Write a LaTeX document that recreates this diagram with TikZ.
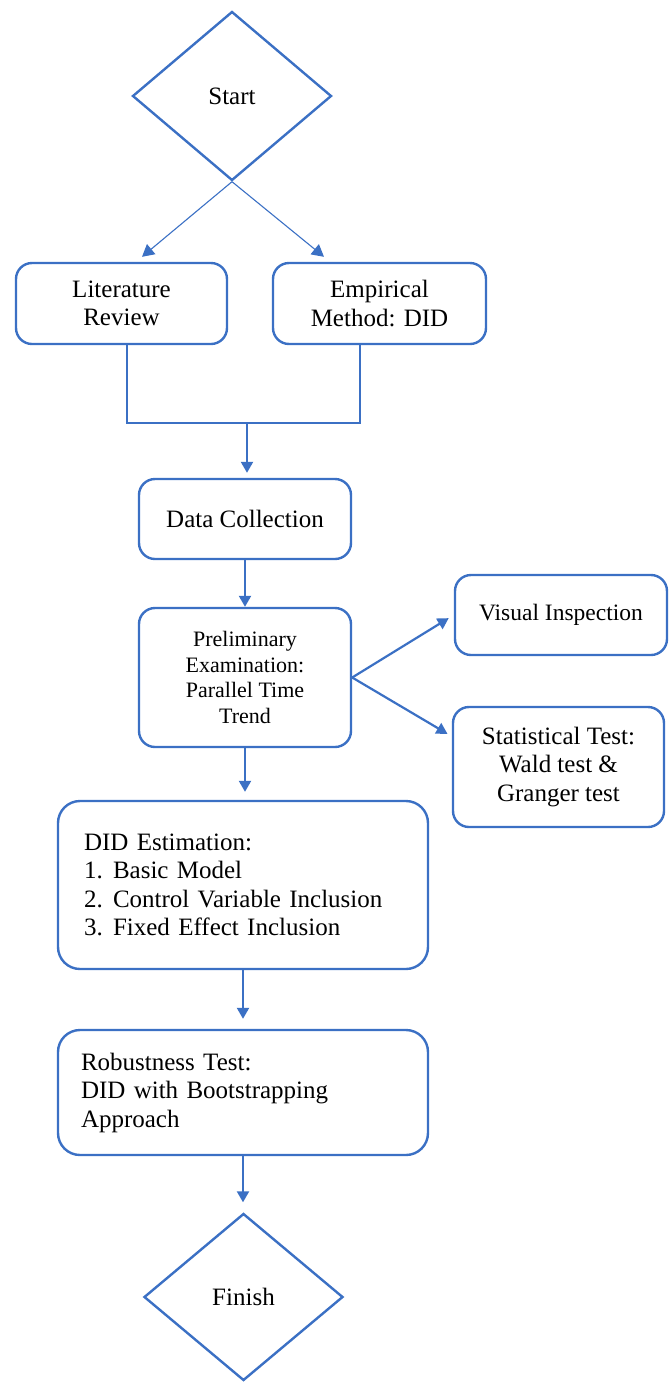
\documentclass[tikz,border=0pt]{standalone}
\usepackage{fontspec}
\setmainfont{Liberation Serif}
\usetikzlibrary{shapes.geometric,arrows.meta,calc}
\definecolor{lineblue}{RGB}{59,112,196}
\begin{document}
\begin{tikzpicture}[x=1pt,y=-1pt,
  box/.style={draw=lineblue, line width=2.4pt, rounded corners=16pt, align=center, inner sep=0pt, font=\fontsize{25}{28.5}\selectfont},
  dia/.style={draw=lineblue, line width=2.4pt, shape=diamond, inner sep=0pt, font=\fontsize{25}{28.5}\selectfont},
  arr/.style={draw=lineblue, line width=2.2pt, -{Triangle[width=12pt,length=11pt]}},
  thinarr/.style={draw=lineblue, line width=1.1pt, -{Triangle[width=13pt,length=12pt]}},
  conn/.style={draw=lineblue, line width=2.2pt},
]
\useasboundingbox (0,0) rectangle (669,1382);

\node[dia, minimum width=199pt, minimum height=169pt] (start) at (232,96) {Start};
\node[box, minimum width=211pt, minimum height=81pt] (lit) at (121.5,303.5) {Literature\\Review};
\node[box, minimum width=213pt, minimum height=81pt] (emp) at (379.5,303.5) {Empirical\\Method: DID};
\node[box, minimum width=212pt, minimum height=80pt] (data) at (245,519) {Data Collection};
\node[box, minimum width=212pt, minimum height=139pt, font=\fontsize{22}{25.5}\selectfont] (prelim) at (245,677.5) {Preliminary\\Examination:\\Parallel Time\\Trend};
\node[box, minimum width=212pt, minimum height=80pt, font=\fontsize{23.5}{27}\selectfont] (vis) at (561,615) {Visual Inspection};
\node[box, minimum width=211pt, minimum height=120pt] (stat) at (558.5,767) {Statistical Test:\\Wald test \&\\Granger test};
\node[box, rounded corners=22pt, minimum width=370pt, minimum height=168pt, text width=318pt, align=left, inner xsep=26pt] (did) at (243,885)
  {DID Estimation:\\\makebox[29pt][l]{1.}Basic Model\\\makebox[29pt][l]{2.}Control Variable Inclusion\\\makebox[29pt][l]{3.}Fixed Effect Inclusion};
\node[box, rounded corners=22pt, minimum width=370pt, minimum height=125pt, text width=324pt, align=left, inner xsep=23pt] (rob) at (243,1092.5)
  {Robustness Test:\\DID with Bootstrapping\\Approach};
\node[dia, minimum width=199pt, minimum height=167pt] (finish) at (243.5,1297) {Finish};

\draw[thinarr] (start.south) -- ($(lit.north)+(20.5,-5)$);
\draw[thinarr] (start.south) -- ($(emp.north)+(-55.5,-5)$);

\coordinate (jl) at (127,423);
\coordinate (jr) at (360,423);
\coordinate (jm) at (247,423);
\draw[conn] (lit.south -| jl) -- (jl) -- (jr) -- (emp.south -| jr);
\draw[arr, shorten >=5pt] (jm) -- (data.north -| jm);
\draw[arr] (data.south) -- (prelim.north);
\draw[arr, shorten >=6pt] (prelim.east) -- (vis.west);
\draw[arr, shorten >=5pt] (prelim.east) -- ($(stat.west)!0.5!(stat.north west)$);
\draw[arr, shorten >=8pt] (prelim.south) -- (prelim.south |- did.north);
\draw[arr, shorten >=10pt] (did.south) -- (rob.north);
\draw[arr, shorten >=10pt] (rob.south) -- (finish.north -| rob.south);
\end{tikzpicture}
\end{document}
